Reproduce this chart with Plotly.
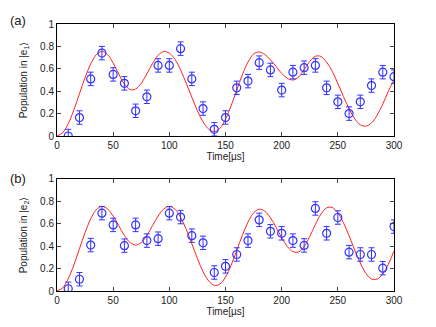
import plotly.graph_objects as go
from plotly.subplots import make_subplots

# measured points (every 10 us)
t_meas = [10, 20, 30, 40, 50, 60, 70, 80, 90, 100, 110, 120, 130, 140, 150,
          160, 170, 180, 190, 200, 210, 220, 230, 240, 250, 260, 270, 280, 290, 300]
pop_e1 = [0.0, 0.165, 0.51, 0.74, 0.55, 0.47, 0.225, 0.35, 0.63, 0.63, 0.78, 0.51, 0.245, 0.06, 0.165,
          0.43, 0.49, 0.655, 0.59, 0.41, 0.57, 0.61, 0.63, 0.43, 0.305, 0.20, 0.305, 0.45, 0.57, 0.53]
pop_e2 = [0.02, 0.105, 0.41, 0.695, 0.59, 0.405, 0.59, 0.45, 0.467, 0.695, 0.66, 0.494, 0.43, 0.165, 0.22,
          0.326, 0.45, 0.635, 0.533, 0.515, 0.45, 0.407, 0.737, 0.515, 0.656, 0.347, 0.326, 0.326, 0.204, 0.575]
err_e1 = [0.06] * 30
err_e2 = [0.06] * 30

# theory curves (every 5 us)
t_theory = [0, 5, 10, 15, 20, 25, 30, 35, 40, 45, 50, 55, 60, 65, 70, 75, 80, 85, 90, 95,
            100, 105, 110, 115, 120, 125, 130, 135, 140, 145, 150, 155, 160, 165, 170, 175,
            180, 185, 190, 195, 200, 205, 210, 215, 220, 225, 230, 235, 240, 245, 250, 255,
            260, 265, 270, 275, 280, 285, 290, 295, 300]
theory_e1 = [0.0, 0.029, 0.11, 0.233, 0.378, 0.522, 0.644, 0.726, 0.755, 0.727, 0.65, 0.553, 0.464, 0.415,
             0.419, 0.471, 0.555, 0.646, 0.72, 0.754, 0.74, 0.684, 0.59, 0.473, 0.347, 0.226, 0.127, 0.062,
             0.04, 0.068, 0.15, 0.27, 0.409, 0.547, 0.66, 0.732, 0.75, 0.727, 0.68, 0.62, 0.559, 0.516,
             0.50, 0.526, 0.593, 0.666, 0.712, 0.71, 0.66, 0.578, 0.47, 0.353, 0.243, 0.155, 0.10, 0.088,
             0.117, 0.186, 0.285, 0.40, 0.50]
theory_e2 = [0.0, 0.029, 0.11, 0.233, 0.378, 0.522, 0.644, 0.726, 0.755, 0.732, 0.669, 0.5825, 0.496, 0.433,
             0.41, 0.433, 0.496, 0.5825, 0.669, 0.732, 0.755, 0.73, 0.658, 0.551, 0.422, 0.29, 0.173, 0.09,
             0.05, 0.062, 0.125, 0.23, 0.362, 0.497, 0.615, 0.697, 0.73, 0.712, 0.654, 0.569, 0.477, 0.399,
             0.352, 0.348, 0.397, 0.487, 0.593, 0.687, 0.742, 0.745, 0.698, 0.61, 0.493, 0.366, 0.25, 0.157,
             0.107, 0.107, 0.152, 0.24, 0.357]

fig = make_subplots(rows=2, cols=1, vertical_spacing=0.161)

panels = [(pop_e1, err_e1, theory_e1), (pop_e2, err_e2, theory_e2)]
for i, (pop, err, theo) in enumerate(panels, start=1):
    fig.add_trace(go.Scatter(
        x=t_theory, y=theo, mode='lines', line=dict(color='#ff2020', width=1, shape='spline'),
        showlegend=False), row=i, col=1)
    fig.add_trace(go.Scatter(
        x=t_meas, y=pop, mode='markers',
        marker=dict(symbol='circle-open', size=8, color='#3333ff', line=dict(width=1.2)),
        error_y=dict(type='data', array=err, color='#3333ff', thickness=1, width=3),
        showlegend=False), row=i, col=1)

axis_font = dict(family='Liberation Sans, Arial, sans-serif', size=10, color='#222')
for i in (1, 2):
    fig.update_xaxes(range=[0, 300], tickvals=[0, 50, 100, 150, 200, 250, 300],
                     ticks='inside', ticklen=4, mirror='ticks', showline=True,
                     linecolor='black', linewidth=1, showgrid=False, zeroline=False,
                     tickfont=axis_font, automargin=False,
                     title=dict(text='Time[µs]', font=axis_font, standoff=1), row=i, col=1)
    fig.update_yaxes(range=[0, 1], tickvals=[0, 0.2, 0.4, 0.6, 0.8, 1],
                     ticktext=['0', '0.2', '0.4', '0.6', '0.8', '1'],
                     ticks='inside', ticklen=4, mirror='ticks', showline=True,
                     linecolor='black', linewidth=1, showgrid=False, zeroline=False,
                     tickfont=axis_font, automargin=False, row=i, col=1)

fig.update_yaxes(title=dict(text='Population in |e<sub>1</sub>⟩', font=axis_font, standoff=10), row=1, col=1)
fig.update_yaxes(title=dict(text='Population in |e<sub>2</sub>⟩', font=axis_font, standoff=10), row=2, col=1)

# the page body adds an 8px offset, so the figure is sized 428x319
W, H = 428, 319
ML, MR, MT, MB = 49, 42, 16, 36
plot_w = W - ML - MR
plot_h = H - MT - MB
for label, xpix, ypix in (('(a)', 10, 13), ('(b)', 10, 170)):
    fig.add_annotation(text=label, xref='paper', yref='paper',
                       x=(xpix - ML) / plot_w, y=(H - MB - ypix) / plot_h,
                       xanchor='center', yanchor='middle', showarrow=False,
                       font=dict(size=13, color='#222'))

fig.update_layout(
    width=W, height=H,
    margin=dict(l=ML, r=MR, t=MT, b=MB),
    plot_bgcolor='white', paper_bgcolor='white',
    font=dict(family='Liberation Sans, Arial, sans-serif', size=10, color='#222'),
)

fig.write_html("out.html")
